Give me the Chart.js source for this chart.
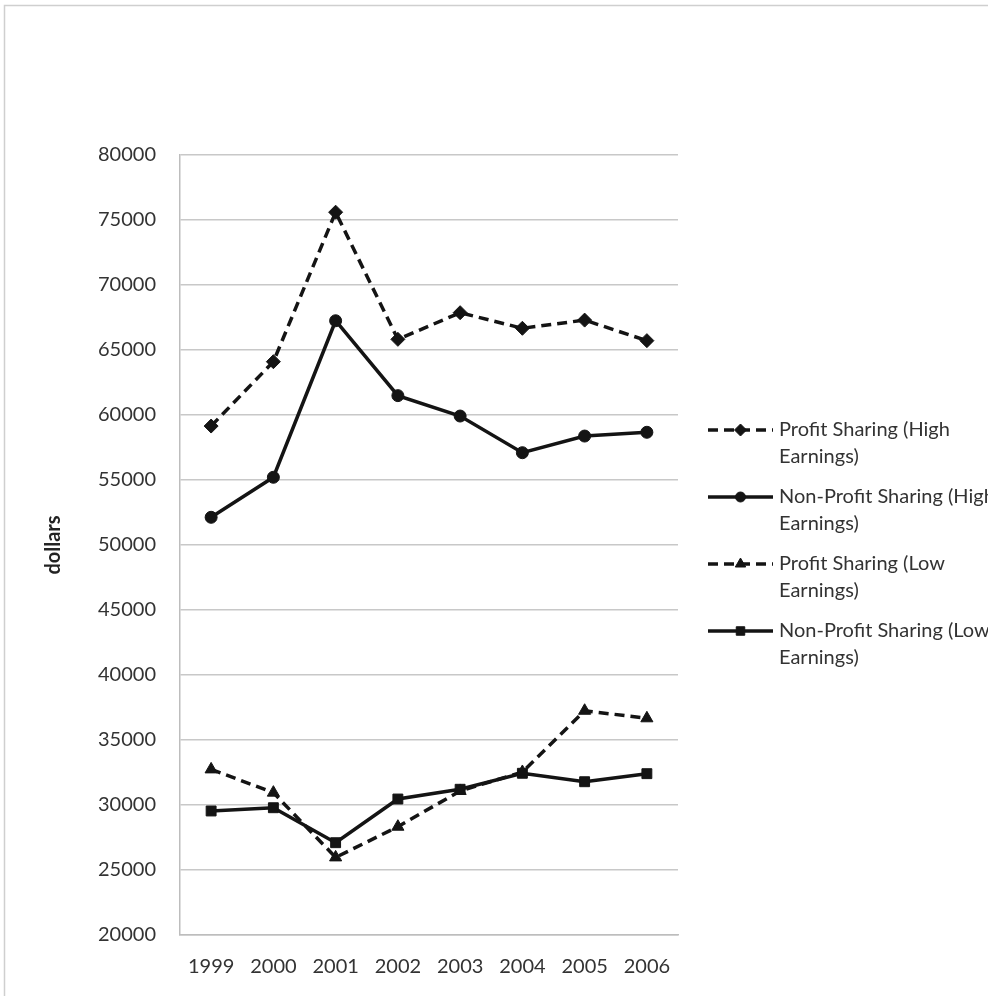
<!DOCTYPE html>
<html>
<head>
<meta charset="utf-8">
<script src="https://cdn.jsdelivr.net/npm/chart.js@4.4.1/dist/chart.umd.min.js"></script>
<style>
  html, body { margin: 0; padding: 0; background: #fff; }
  #wrap { width: 988px; height: 996px; position: relative; }
</style>
</head>
<body>
<div id="wrap"><canvas id="c" width="988" height="996"></canvas></div>
<script>
// Mean earnings by year, in dollars
const years = ['1999', '2000', '2001', '2002', '2003', '2004', '2005', '2006'];
const profitHigh    = [59150, 64100, 75600, 65820, 67870, 66670, 67300, 65720];
const nonProfitHigh = [52130, 55210, 67250, 61490, 59920, 57100, 58380, 58670];
const profitLow     = [32740, 30950, 25970, 28330, 31080, 32540, 37250, 36670];
const nonProfitLow  = [29540, 29790, 27100, 30460, 31210, 32440, 31790, 32410];
const seriesNames = [
  ['Profit Sharing (High', 'Earnings)'],
  ['Non-Profit Sharing (High', 'Earnings)'],
  ['Profit Sharing (Low', 'Earnings)'],
  ['Non-Profit Sharing (Low', 'Earnings)']
];

const INK = '#141414';
const TEXT = '#333333';
const FONT = 'Lato, "Open Sans", sans-serif';
const FONT_SIZE = 20;

function series(label, data, dashed, pointStyle, radius) {
  return {
    label: label.join(' '),
    data: data,
    borderColor: INK,
    backgroundColor: INK,
    borderWidth: 3.5,
    borderDash: dashed ? [10, 6] : [],
    pointStyle: pointStyle,
    pointRadius: radius,
    pointBorderWidth: 1,
    pointBorderColor: INK,
    pointBackgroundColor: INK,
    tension: 0,
    fill: false
  };
}

// Frame and multi-line legend drawn on the canvas
const framePlugin = {
  id: 'frame',
  beforeDraw(chart) {
    const ctx = chart.ctx;
    ctx.save();
    ctx.strokeStyle = '#cfcfcf';
    ctx.lineWidth = 1.5;
    ctx.beginPath();
    ctx.moveTo(4.5, 1000);
    ctx.lineTo(4.5, 5.5);
    ctx.lineTo(1000, 5.5);
    ctx.stroke();
    ctx.restore();
  }
};

const legendPlugin = {
  id: 'wrapLegend',
  afterDraw(chart) {
    const ctx = chart.ctx;
    const x0 = 708, x1 = 773, tx = 779;
    const firstY = 430, itemGap = 67, lineGap = 27;
    ctx.save();
    chart.data.datasets.forEach((ds, i) => {
      const y = firstY + i * itemGap;
      ctx.strokeStyle = ds.borderColor;
      ctx.lineWidth = ds.borderWidth;
      ctx.setLineDash(ds.borderDash);
      ctx.beginPath();
      ctx.moveTo(x0, y);
      ctx.lineTo(x1, y);
      ctx.stroke();
      ctx.setLineDash([]);
      ctx.fillStyle = ds.pointBackgroundColor;
      ctx.strokeStyle = ds.pointBorderColor;
      ctx.lineWidth = 1;
      Chart.helpers.drawPoint(ctx, {
        pointStyle: ds.pointStyle,
        radius: ds.pointRadius - 1,
        borderWidth: 1,
        rotation: 0
      }, (x0 + x1) / 2, y);
      ctx.fillStyle = TEXT;
      ctx.font = FONT_SIZE + 'px ' + FONT;
      ctx.textAlign = 'left';
      ctx.textBaseline = 'middle';
      seriesNames[i].forEach((line, k) => {
        ctx.fillText(line, tx, y + k * lineGap);
      });
    });
    ctx.restore();
  }
};

new Chart(document.getElementById('c'), {
  type: 'line',
  data: {
    labels: years,
    datasets: [
      series(seriesNames[0], profitHigh, true, 'rectRot', 7),
      series(seriesNames[1], nonProfitHigh, false, 'circle', 6),
      series(seriesNames[2], profitLow, true, 'triangle', 7),
      series(seriesNames[3], nonProfitLow, false, 'rect', 7)
    ]
  },
  options: {
    responsive: false,
    animation: false,
    devicePixelRatio: 1,
    layout: { padding: { top: 155, right: 310, bottom: 0, left: 0 } },
    plugins: {
      legend: { display: false },
      tooltip: { enabled: false }
    },
    scales: {
      x: {
        offset: true,
        afterFit(scale) { scale.height = 61; },
        grid: { display: false, drawTicks: false },
        border: { display: true, color: '#bdbdbd', width: 1.5 },
        ticks: { color: TEXT, font: { family: FONT, size: FONT_SIZE }, padding: 20, maxRotation: 0 }
      },
      y: {
        min: 20000,
        max: 80000,
        afterFit(scale) { scale.width = 180; },
        grid: { color: '#c8c8c8', lineWidth: 1.5, drawTicks: false },
        border: { display: true, color: '#bdbdbd', width: 1.5 },
        ticks: {
          stepSize: 5000,
          color: TEXT,
          font: { family: FONT, size: FONT_SIZE },
          padding: 24,
          callback: (v) => String(v)
        },
        title: {
          display: true,
          text: 'dollars',
          color: '#222',
          font: { family: FONT, size: 20, weight: 'bold' },
          padding: { top: 42 }
        }
      }
    }
  },
  plugins: [framePlugin, legendPlugin]
});
</script>
</body>
</html>
